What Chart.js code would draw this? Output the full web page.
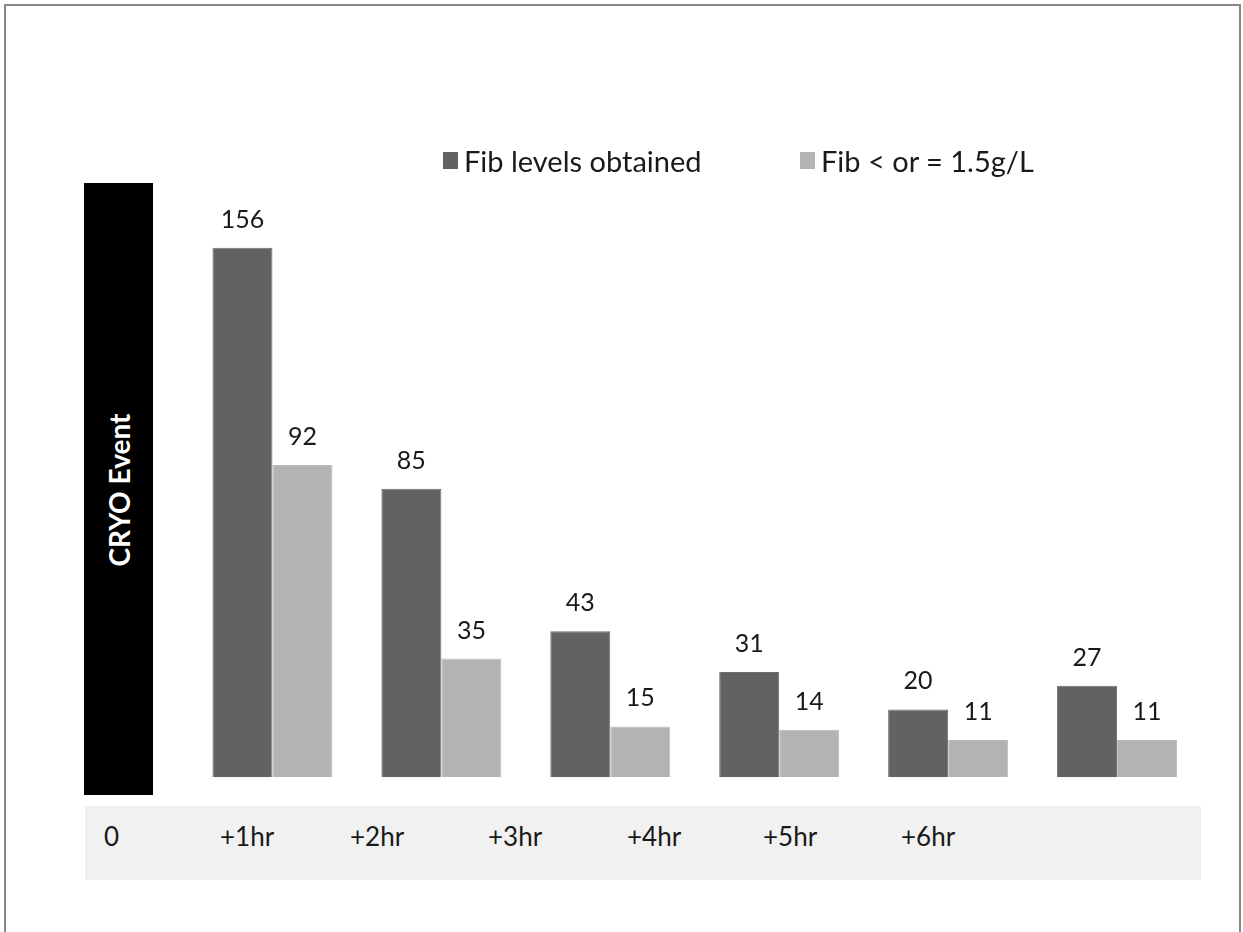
<!DOCTYPE html>
<html>
<head>
<meta charset="utf-8">
<script src="https://cdn.jsdelivr.net/npm/chart.js@4/dist/chart.umd.min.js"></script>
<style>
  html, body { margin: 0; padding: 0; background: #ffffff; }
  body { width: 1243px; height: 932px; position: relative; overflow: hidden; font-family: Lato, "Open Sans", sans-serif; }
  #frame { position: absolute; left: 4px; top: 4px; width: 1233px; height: 1000px; border: 2px solid #878787; box-sizing: content-box; }
  #chart { position: absolute; left: 0; top: 0; }
  .item { position: absolute; top: 142px; height: 36px; display: flex; align-items: center; font-size: 29px; color: #1a1a1a; white-space: nowrap; }
  .swatch { width: 15px; height: 17px; margin-right: 6px; }
  #event { position: absolute; left: 84px; top: 183px; width: 69px; height: 612px; background: #000; }
  #event span { position: absolute; left: 50%; top: 307px; transform: translate(-50%, -50%) rotate(-90deg); color: #fff; font-weight: bold; font-size: 28px; white-space: nowrap; }
  #band { position: absolute; left: 85px; top: 806px; width: 1116px; height: 74px; background: #f1f1f1; }
  #band span { position: absolute; top: 14px; font-size: 26px; color: #1a1a1a; }
</style>
</head>
<body>
<div id="frame"></div>
<div id="event"><span></span></div>
<div id="band"></div>
<canvas id="chart" width="1243" height="932"></canvas>
<script>
// Fibrinogen checks after each cryoprecipitate event, per hourly window
const windows = ['0-1hr', '1-2hr', '2-3hr', '3-4hr', '4-5hr', '5-6hr'];
const fibObtained = [156, 85, 43, 31, 20, 27];
const fibLow = [92, 35, 15, 14, 11, 11];
const seriesNames = ['Fib levels obtained', 'Fib < or = 1.5g/L'];
const timeLabels = ['0', '+1hr', '+2hr', '+3hr', '+4hr', '+5hr', '+6hr'];
const eventLabel = 'CRYO Event';

const colors = ['#626262', '#b3b3b3'];
const legendLeft = [443, 800];
const timeLabelLeft = [19, 135, 265, 403, 542, 678, 816];

// legend
seriesNames.forEach((name, i) => {
  const item = document.createElement('div');
  item.className = 'item';
  item.style.left = legendLeft[i] + 'px';
  const sw = document.createElement('div');
  sw.className = 'swatch';
  sw.style.background = colors[i];
  const tx = document.createElement('span');
  tx.textContent = name;
  item.appendChild(sw);
  item.appendChild(tx);
  document.body.appendChild(item);
});

document.querySelector('#event span').textContent = eventLabel;

// time row beneath the bars
const band = document.getElementById('band');
timeLabels.forEach((t, i) => {
  const s = document.createElement('span');
  s.textContent = t;
  s.style.left = timeLabelLeft[i] + 'px';
  band.appendChild(s);
});

const valueLabels = {
  id: 'valueLabels',
  afterDatasetsDraw(chart) {
    const ctx = chart.ctx;
    ctx.save();
    ctx.font = '25px Lato, "Open Sans", sans-serif';
    ctx.fillStyle = '#1a1a1a';
    ctx.textAlign = 'center';
    ctx.textBaseline = 'middle';
    chart.data.datasets.forEach((ds, di) => {
      chart.getDatasetMeta(di).data.forEach((bar, i) => {
        ctx.fillText(String(ds.data[i]), bar.x, bar.y - 28);
      });
    });
    ctx.restore();
  }
};

new Chart(document.getElementById('chart'), {
  type: 'bar',
  data: {
    labels: windows,
    datasets: [
      { label: seriesNames[0], data: fibObtained, backgroundColor: colors[0], borderColor: '#707070', borderWidth: 1 },
      { label: seriesNames[1], data: fibLow, backgroundColor: colors[1], borderColor: '#bcbcbc', borderWidth: 1 }
    ]
  },
  options: {
    responsive: false,
    animation: false,
    layout: { padding: { left: 188, right: 41.5, top: 166.2, bottom: 154.7 } },
    datasets: { bar: { categoryPercentage: 0.7105, barPercentage: 1.0 } },
    scales: {
      x: { display: false },
      y: { display: false, min: 0, max: 180 }
    },
    plugins: { legend: { display: false }, tooltip: { enabled: false } }
  },
  plugins: [valueLabels]
});
</script>
</body>
</html>
